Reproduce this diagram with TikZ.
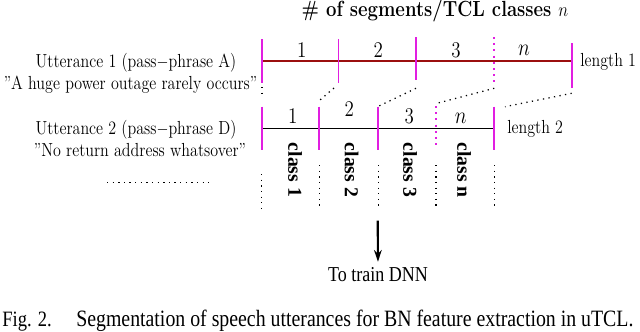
\documentclass[tikz,border=0pt]{standalone}
\usepackage{fontspec}
\newfontfamily\timesfont{Liberation Serif}
\usepackage{tikz}
\usetikzlibrary{arrows.meta}
\definecolor{segmag}{RGB}{225,30,225}
\definecolor{darkred}{RGB}{155,15,15}

\begin{document}
\begin{tikzpicture}[x=0.025cm, y=-0.025cm, >=Stealth,
  txt/.style={font=\fontsize{11.4}{13}\selectfont, inner sep=0pt, anchor=base, yscale=1.18, transform shape},
  num/.style={font=\fontsize{13.5}{15}\selectfont, inner sep=0pt, anchor=base, yscale=1.18, transform shape},
  tms/.style={font=\timesfont\fontsize{12.8}{15}\selectfont, inner sep=0pt, anchor=base, yscale=1.18, transform shape},
  cls/.style={font=\timesfont\bfseries\fontsize{14}{16}\selectfont, inner sep=0pt, rotate=-90},
  seg/.style={segmag, line width=1.4pt},
  segdot/.style={segmag, line width=1.4pt, dash pattern=on 1.4pt off 3pt},
  link/.style={line width=0.9pt, dash pattern=on 0.9pt off 3.1pt}]
  \useasboundingbox (0,0) rectangle (640,331);
  % title
  \node[txt, font=\bfseries\fontsize{13.2}{15}\selectfont] (title) at (435,16) {\# of segments/TCL classes $n$};

  % left texts
  \node[txt] (utt1) at (136,67) {Utterance 1 (pass$-$phrase A)};
  \node[txt] (phr1) at (130.5,89) {''A huge power outage rarely occurs''};
  \node[txt] (utt2) at (136,134.3) {Utterance 2 (pass$-$phrase D)};
  \node[txt] (phr2) at (140,156) {''No return address whatsover''};
  \coordinate (D0) at (107,182.3);
  \coordinate (D1) at (209,182.3);
  \draw[link] (D0) -- (D1);

  % utterance 1
  \coordinate (A0t) at (262,39);    \coordinate (A0b) at (262,83);
  \coordinate (A1t) at (338.5,39);  \coordinate (A1b) at (338.5,83);
  \coordinate (A2t) at (416,37);    \coordinate (A2b) at (416,79.5);
  \coordinate (A3t) at (494.3,37);  \coordinate (A3b) at (494.3,82);
  \coordinate (A4t) at (571.7,43);  \coordinate (A4b) at (571.7,88);
  \draw[darkred, line width=1.4pt] (262,61) -- (571.7,61);
  \draw[seg] (A0t) -- (A0b);
  \draw[seg] (A1t) -- (A1b);
  \draw[seg] (A2t) -- (A2b);
  \draw[segdot] (A3t) -- (A3b);
  \draw[seg] (A4t) -- (A4b);
  \node[num] (a1) at (301.7,57.3) {1};
  \node[num] (a2) at (378.3,57.3) {2};
  \node[num] (a3) at (456,57.3) {3};
  \node[num] (an) at (524,55) {$n$};
  \node[txt, anchor=base west] (len1) at (580,66.7) {length 1};

  % utterance 2
  \coordinate (B0t) at (261.7,106.5); \coordinate (B0b) at (261.7,150);
  \coordinate (B1t) at (319.3,106.5); \coordinate (B1b) at (319.3,150);
  \coordinate (B2t) at (378.3,106.5); \coordinate (B2b) at (378.3,150);
  \coordinate (B3t) at (436,106);     \coordinate (B3b) at (436,148);
  \coordinate (B4t) at (494.3,106.5); \coordinate (B4b) at (494.3,150);
  \draw[line width=1pt] (261.7,128.3) -- (494.3,128.3);
  \draw[seg] (B0t) -- (B0b);
  \draw[seg] (B1t) -- (B1b);
  \draw[seg] (B2t) -- (B2b);
  \draw[segdot] (B3t) -- (B3b);
  \draw[seg] (B4t) -- (B4b);
  \node[num] (b1) at (292.7,123.3) {1};
  \node[num] (b2) at (349.3,116.7) {2};
  \node[num] (b3) at (409.3,123.3) {3};
  \node[num] (bn) at (460.7,123.3) {$n$};
  \node[txt, anchor=base west] (len2) at (507,133.3) {length 2};

  % dotted links between the two utterances
  \coordinate (L0s) at (262,87);      \coordinate (L0e) at (262,98);
  \coordinate (L1s) at (334,88);      \coordinate (L1e) at (320,100);
  \coordinate (L2s) at (416,88.3);    \coordinate (L2e) at (379,106);
  \coordinate (L3s) at (494.3,88.3);  \coordinate (L3e) at (437,103.3);
  \coordinate (L4s) at (571.7,93.3);  \coordinate (L4e) at (505,106.7);
  \draw[link] (L0s) -- (L0e);
  \draw[link] (L1s) -- (L1e);
  \draw[link] (L2s) -- (L2e);
  \draw[link] (L3s) -- (L3e);
  \draw[link] (L4s) -- (L4e);

  % classes
  \node[cls] (c1) at (295,170) {class 1};
  \node[cls] (c2) at (351.7,170) {class 2};
  \node[cls] (c3) at (410,170) {class 3};
  \node[cls] (cn) at (464,170) {class n};
  \coordinate (V0) at (261.5,174);  \coordinate (W0) at (261.5,208);
  \coordinate (V1) at (319.3,165);  \coordinate (W1) at (319.3,208);
  \coordinate (V2) at (378.3,165);  \coordinate (W2) at (378.3,208);
  \coordinate (V3) at (436,165);    \coordinate (W3) at (436,208);
  \coordinate (V4) at (494.3,165);  \coordinate (W4) at (494.3,208);
  \draw[link] (V0) -- (W0);
  \draw[link] (V1) -- (W1);
  \draw[link] (V2) -- (W2);
  \draw[link] (V3) -- (W3);
  \draw[link] (V4) -- (W4);

  % to the DNN
  \coordinate (T) at (377.7,220.7);
  \node[tms] (dnn) at (378,281) {To train DNN};
  \draw[->, line width=1.5pt, >={Stealth[length=8.3pt, width=5.5pt]}, shorten >=3.5pt] (T) -- (dnn.north);

  % caption
  \node[tms, anchor=base west, font=\timesfont\fontsize{13.2}{15}\selectfont] (figno) at (2,326.7) {Fig. 2.};
  \node[tms, anchor=base west, font=\timesfont\fontsize{14.1}{16}\selectfont] (capt) at (76,326.7) {Segmentation of speech utterances for BN feature extraction in uTCL.};
\end{tikzpicture}
\end{document}
